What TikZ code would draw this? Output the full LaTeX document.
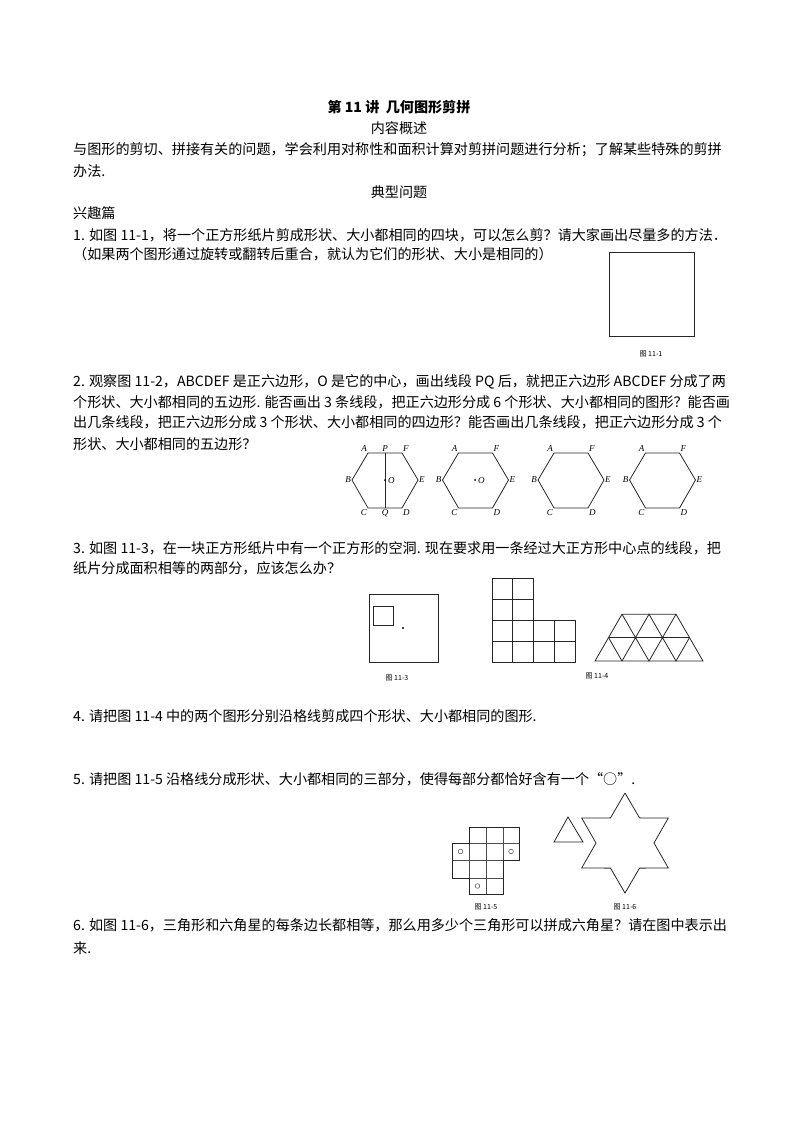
\documentclass[tikz,border=0pt]{standalone}
\usepackage{fontspec}
\setmainfont{Noto Sans CJK SC}
\newfontfamily\lab{Liberation Serif}
\begin{document}
\begin{tikzpicture}[x=1pt,y=-1pt,
  txt/.style={anchor=west,inner sep=0pt,font=\fontsize{14.1}{16}\selectfont},
  ctr/.style={anchor=center,inner sep=0pt,font=\fontsize{14.1}{16}\selectfont},
  figcap/.style={anchor=center,inner sep=0pt,font=\fontsize{7}{8}\selectfont},
  vl/.style={inner sep=1pt,font=\lab\itshape\fontsize{9}{10}\selectfont},
  fig/.style={line width=0.8pt,black!85},
  gridln/.style={line width=0.5pt,black!70}]
\useasboundingbox (0,0) rectangle (800,1132);
\node[ctr,font=\bfseries\fontsize{14.1}{16}\selectfont] (title) at (399,107) {第 11 讲\ \ 几何图形剪拼};
\node[ctr] (h1) at (399,128) {内容概述};
\node[txt] (p1) at (73,150) {与图形的剪切、拼接有关的问题，学会利用对称性和面积计算对剪拼问题进行分析；了解某些特殊的剪拼};
\node[txt] (p2) at (73,171) {办法.};
\node[ctr] (h2) at (399,192) {典型问题};
\node[txt] (h3) at (73,213) {兴趣篇};
\node[txt] (q1a) at (73,235) {1. 如图 11-1，将一个正方形纸片剪成形状、大小都相同的四块，可以怎么剪？请大家画出尽量多的方法．};
\node[txt] (q1b) at (73,254) {（如果两个图形通过旋转或翻转后重合，就认为它们的形状、大小是相同的）};
% fig 11-1
\draw[fig] (609,252) rectangle (694,336);
\node[figcap] (c1) at (651,354) {图 11-1};
% problem 2
\node[txt] (q2a) at (73,382) {2. 观察图 11-2，ABCDEF 是正六边形，O 是它的中心，画出线段 PQ 后，就把正六边形 ABCDEF 分成了两};
\node[txt] (q2b) at (73,402) {个形状、大小都相同的五边形. 能否画出 3 条线段，把正六边形分成 6 个形状、大小都相同的图形？能否画};
\node[txt] (q2c) at (73,422) {出几条线段，把正六边形分成 3 个形状、大小都相同的四边形？能否画出几条线段，把正六边形分成 3 个};
\node[txt] (q2d) at (73,444) {形状、大小都相同的五边形？};
% hexagons
\foreach \cx/\i in {385/1,475.5/2,571/3,662.5/4}{
  \draw[fig] (\cx-17,453) -- (\cx+17,453) -- (\cx+33,480) -- (\cx+17,508) -- (\cx-17,508) -- (\cx-33,480) -- cycle;
  \node[vl,anchor=south east] (A\i) at (\cx-17,453) {A};
  \node[vl,anchor=south west] (F\i) at (\cx+17,453) {F};
  \node[vl,anchor=west] (E\i) at (\cx+33,480) {E};
  \node[vl,anchor=north west] (D\i) at (\cx+17,508) {D};
  \node[vl,anchor=north east] (C\i) at (\cx-17,508) {C};
  \node[vl,anchor=east] (B\i) at (\cx-33,480) {B};
}
\coordinate (P) at (385,453); \coordinate (Q) at (385,508);
\draw[fig] (P) -- (Q);
\node[vl,anchor=south] (Pl) at (P) {P};
\node[vl,anchor=north] (Ql) at (Q) {Q};
\fill (385,480) circle (1pt);
\node[vl,anchor=west] (O1) at (387,481) {O};
\fill (475,480) circle (1pt);
\node[vl,anchor=west] (O2) at (477,481) {O};
% problem 3
\node[txt] (q3a) at (73,548) {3. 如图 11-3，在一块正方形纸片中有一个正方形的空洞. 现在要求用一条经过大正方形中心点的线段，把};
\node[txt] (q3b) at (73,568) {纸片分成面积相等的两部分，应该怎么办？};
\draw[fig] (369,594) rectangle (438,662);
\draw[fig] (373,606) rectangle (393,625);
\fill (403,628) circle (1.1pt);
\node[figcap] (c3) at (397,678) {图 11-3};
% L shape
\draw[fig] (492,578) -- (533,578) -- (533,620) -- (575,620) -- (575,662) -- (492,662) -- cycle;
\draw[fig] (512,578) -- (512,662) (533,620) -- (533,662) (554,620) -- (554,662)
  (492,599) -- (533,599) (492,620) -- (533,620) (492,641) -- (575,641);
% trapezoid
\draw[fig] (595,661) -- (703,661) -- (676,614.2) -- (622,614.2) -- cycle;
\draw[fig] (608.5,637.6) -- (689.5,637.6);
\draw[fig] (622,661) -- (635.5,637.6) -- (649,661) -- (662.5,637.6) -- (676,661) -- (689.5,637.6);
\draw[fig] (608.5,637.6) -- (622,661) (635.5,637.6) -- (622,614.2) (635.5,637.6) -- (649,614.2) -- (662.5,637.6) -- (676,614.2);
\node[figcap] (c4) at (597,676) {图 11-4};
% problem 4,5
\node[txt] (q4) at (73,716) {4. 请把图 11-4 中的两个图形分别沿格线剪成四个形状、大小都相同的图形.};
\node[txt] (q5) at (73,779) {5. 请把图 11-5 沿格线分成形状、大小都相同的三部分，使得每部分都恰好含有一个“○”.};
% fig 11-5
\draw[gridln] (469,827) -- (469,894) (486,827) -- (486,894) (503,827) -- (503,878)
  (452,843) -- (519,843) (452,860) -- (519,860) (452,878) -- (503,878);
\draw[fig,line width=0.6pt] (469,827) -- (519,827) -- (519,860) -- (503,860) -- (503,894) -- (469,894) -- (469,878) -- (452,878) -- (452,843) -- (469,843) -- cycle;
\draw[gridln] (460.5,851.5) circle (2.3pt) (511,851.5) circle (2.3pt) (477.5,886) circle (2.3pt);
\node[figcap] (c5) at (486,907) {图 11-5};
% fig 11-6
\draw[fig] (568,817) -- (583,842) -- (554,842) -- cycle;
\draw[fig] (625,793)
  \foreach \k in {0,...,5}{ -- ({625+29*cos(60*\k+120)},{843-29*sin(60*\k+120)}) -- ({625+50*cos(60*\k+150)},{843-50*sin(60*\k+150)}) } ;
\node[figcap] (c6) at (625,907) {图 11-6};
% problem 6
\node[txt] (q6a) at (73,925) {6. 如图 11-6，三角形和六角星的每条边长都相等，那么用多少个三角形可以拼成六角星？请在图中表示出};
\node[txt] (q6b) at (73,948) {来.};
\end{tikzpicture}
\end{document}
